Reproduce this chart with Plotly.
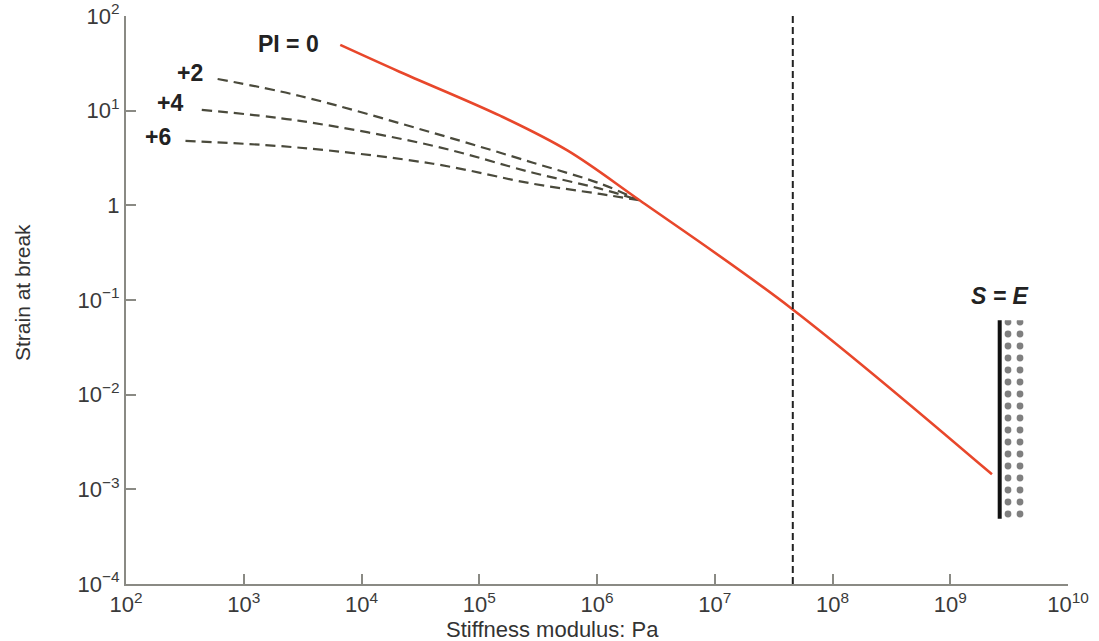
import numpy as np
import plotly.graph_objects as go

# ---- data ----
pi0_x = [6.6e3, 2.1e4, 1.5e5, 5.6e5, 2.3e6, 4.45e7, 2.26e9]
pi0_y = [49.5, 25.8, 8.85, 3.8, 1.13, 0.082, 1.44e-3]

pi2_x = [6.0e2, 3.0e3, 4.05e4, 2.86e5, 1.06e6, 2.3e6]
pi2_y = [21.6, 14.3, 5.83, 2.82, 1.70, 1.13]

pi4_x = [4.4e2, 3.0e3, 4.05e4, 2.86e5, 1.06e6, 2.3e6]
pi4_y = [10.2, 7.8, 4.26, 2.21, 1.50, 1.13]

pi6_x = [3.2e2, 3.0e3, 4.05e4, 2.86e5, 1.06e6, 2.3e6]
pi6_y = [4.8, 4.06, 2.75, 1.69, 1.32, 1.13]

vline_x = 4.6e7
se_x_line = 2.63e9
se_x_dots = [2.85e9, 4.3e9]
se_y = [4.9e-4, 0.061]

x_tickvals = [1e2, 1e3, 1e4, 1e5, 1e6, 1e7, 1e8, 1e9, 1e10]
x_ticktext = ["10<sup>2</sup>", "10<sup>3</sup>", "10<sup>4</sup>", "10<sup>5</sup>",
              "10<sup>6</sup>", "10<sup>7</sup>", "10<sup>8</sup>", "10<sup>9</sup>",
              "10<sup>10</sup>"]
y_tickvals = [1e-4, 1e-3, 1e-2, 1e-1, 1, 1e1, 1e2]
y_ticktext = ["10<sup>−4</sup>", "10<sup>−3</sup>", "10<sup>−2</sup>", "10<sup>−1</sup>",
              "1", "10<sup>1</sup>", "10<sup>2</sup>"]

curve_labels = ["PI = 0", "+2", "+4", "+6"]
label_x = [2.42e3, 3.5e2, 2.37e2, 1.87e2]
label_y = [50.7, 25.0, 12.1, 5.3]

FONT = "Liberation Sans, Arial, sans-serif"
DASH_COLOR = "#4a4a3c"

W, H = 1099, 641
PLOT_L, PLOT_R, PLOT_T, PLOT_B = 126, 1068, 16, 584

fig = go.Figure()

for xs, ys in [(pi2_x, pi2_y), (pi4_x, pi4_y), (pi6_x, pi6_y)]:
    fig.add_trace(go.Scatter(x=xs, y=ys, mode="lines",
                             line=dict(color=DASH_COLOR, width=2.2, dash="10px,6px", shape="spline"),
                             showlegend=False, hoverinfo="skip"))

fig.add_trace(go.Scatter(x=pi0_x, y=pi0_y, mode="lines",
                         line=dict(color="#e8472b", width=2.6, shape="spline", smoothing=1.0),
                         showlegend=False))

fig.add_trace(go.Scatter(x=[vline_x, vline_x], y=[1e-4, 1e2], mode="lines",
                         line=dict(color="#222222", width=2, dash="7px,4px"),
                         showlegend=False, hoverinfo="skip"))

# S = E stippled band
fig.add_trace(go.Scatter(
    x=[se_x_dots[0], se_x_dots[1], se_x_dots[1], se_x_dots[0], se_x_dots[0]],
    y=[se_y[0], se_y[0], se_y[1], se_y[1], se_y[0]],
    mode="lines", fill="toself", line=dict(width=0, color="rgba(0,0,0,0)"),
    fillcolor="rgba(0,0,0,0)",
    fillpattern=dict(shape=".", fgcolor="#000000", bgcolor="white", size=12, solidity=0.25),
    showlegend=False, hoverinfo="skip"))
fig.add_trace(go.Scatter(x=[se_x_line, se_x_line], y=se_y, mode="lines",
                         line=dict(color="#111111", width=4),
                         showlegend=False, hoverinfo="skip"))

for t, lx, ly in zip(curve_labels, label_x, label_y):
    fig.add_annotation(x=np.log10(lx), y=np.log10(ly), text=t, showarrow=False,
                       font=dict(family=FONT, size=23, color="#222222", weight="bold"),
                       xanchor="center", yanchor="middle")

fig.add_annotation(x=np.log10(2.63e9), y=np.log10(0.111), text="S = E", showarrow=False,
                   font=dict(family=FONT, size=23, color="#222222", weight="bold", style="italic"),
                   xanchor="center", yanchor="middle")

pw = PLOT_R - PLOT_L
ph = PLOT_B - PLOT_T
# axis titles
fig.add_annotation(xref="paper", yref="paper", x=(552 - PLOT_L) / pw, y=-(629 - PLOT_B) / ph,
                   text="Stiffness modulus: Pa", showarrow=False,
                   font=dict(family=FONT, size=22, color="#333333"),
                   xanchor="center", yanchor="middle")
fig.add_annotation(xref="paper", yref="paper", x=-(PLOT_L - 22) / pw, y=(PLOT_B - 293) / ph,
                   text="Strain at break", showarrow=False, textangle=-90,
                   font=dict(family=FONT, size=21, color="#333333"),
                   xanchor="center", yanchor="middle")

axis_common = dict(type="log", showgrid=False, zeroline=False, showline=True,
                   linecolor="#8a8a84", linewidth=2, ticks="inside", ticklen=10,
                   tickwidth=1.5, tickcolor="#8a8a84", ticklabeloverflow="allow",
                   tickfont=dict(family=FONT, size=22, color="#3a3a3a"))

fig.update_xaxes(range=[2, 10], tickvals=x_tickvals, ticktext=x_ticktext, **axis_common)
fig.update_yaxes(range=[-4, 2], tickvals=y_tickvals, ticktext=y_ticktext, **axis_common)

fig.update_layout(width=W, height=H, plot_bgcolor="white", paper_bgcolor="white",
                  margin=dict(l=PLOT_L, r=W - PLOT_R, t=PLOT_T, b=H - PLOT_B, autoexpand=False),
                  showlegend=False)

# remove the default page margin so the figure fills the window exactly
fig.write_html("out.html", config={"displayModeBar": False},
               post_script="document.body.style.margin='0';document.body.style.overflow='hidden';")
